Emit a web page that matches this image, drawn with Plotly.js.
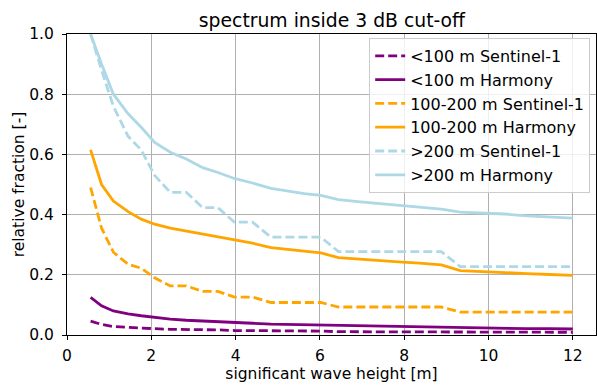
<!DOCTYPE html>
<html>
<head>
<meta charset="utf-8">
<script src="https://cdn.plot.ly/plotly-3.0.1.min.js"></script>
<style>html,body{margin:0;padding:0;background:#fff;}#chart{width:597px;height:387px;}</style>
</head>
<body>
<div id="chart"></div>
<script>
// significant wave height [m]
const hs = [0.56, 0.82, 1.1, 1.45, 1.76, 2.08, 2.45, 2.83, 3.22, 3.58, 3.97, 4.4, 4.84, 5.24, 5.63, 6.02, 6.44, 6.9, 7.38, 7.86, 8.36, 8.88, 9.33, 9.85, 10.38, 10.9, 11.45, 12.0];

const lt100S1 = [0.046, 0.035, 0.028, 0.025, 0.023, 0.021, 0.019, 0.019, 0.017, 0.017, 0.015, 0.015, 0.013, 0.013, 0.013, 0.013, 0.011, 0.011, 0.011, 0.011, 0.011, 0.011, 0.009, 0.009, 0.009, 0.009, 0.009, 0.009];
const lt100Harmony = [0.125, 0.097, 0.08, 0.07, 0.064, 0.058, 0.053, 0.049, 0.046, 0.043, 0.041, 0.039, 0.036, 0.035, 0.034, 0.032, 0.03, 0.029, 0.028, 0.027, 0.026, 0.025, 0.023, 0.022, 0.022, 0.021, 0.021, 0.02];
const mid100S1 = [0.49, 0.355, 0.275, 0.235, 0.222, 0.19, 0.163, 0.163, 0.145, 0.145, 0.126, 0.126, 0.108, 0.108, 0.108, 0.108, 0.093, 0.093, 0.093, 0.093, 0.093, 0.093, 0.076, 0.076, 0.076, 0.076, 0.076, 0.076];
const mid100Harmony = [0.615, 0.50, 0.445, 0.41, 0.385, 0.368, 0.355, 0.345, 0.335, 0.325, 0.314, 0.305, 0.29, 0.285, 0.28, 0.273, 0.257, 0.252, 0.248, 0.243, 0.239, 0.233, 0.214, 0.21, 0.207, 0.204, 0.201, 0.198];
const gt200S1 = [1.0, 0.88, 0.76, 0.66, 0.615, 0.53, 0.474, 0.474, 0.423, 0.423, 0.375, 0.375, 0.325, 0.325, 0.325, 0.325, 0.277, 0.277, 0.277, 0.277, 0.277, 0.277, 0.227, 0.227, 0.227, 0.227, 0.227, 0.227];
const gt200Harmony = [1.0, 0.90, 0.80, 0.735, 0.69, 0.64, 0.607, 0.585, 0.556, 0.54, 0.52, 0.505, 0.487, 0.478, 0.47, 0.464, 0.45, 0.443, 0.437, 0.43, 0.424, 0.418, 0.408, 0.405, 0.402, 0.396, 0.392, 0.388];

const names = ['<100 m Sentinel-1', '<100 m Harmony', '100-200 m Sentinel-1', '100-200 m Harmony', '>200 m Sentinel-1', '>200 m Harmony'];
const series = [lt100S1, lt100Harmony, mid100S1, mid100Harmony, gt200S1, gt200Harmony];
const colors = ['#800080', '#800080', '#FFA500', '#FFA500', '#ADD8E6', '#ADD8E6'];
const dashes = ['9px,4px', 'solid', '9px,4px', 'solid', '9px,4px', 'solid'];

const traces = series.map((ys, i) => ({
  x: hs, y: ys, name: names[i], type: 'scatter', mode: 'lines',
  line: {color: colors[i], width: 2.8, dash: dashes[i]}
}));

const font = {family: 'DejaVu Sans, sans-serif', size: 15.5, color: '#000'};
const layout = {
  width: 597, height: 387,
  margin: {l: 67, r: 1, t: 34, b: 52},
  paper_bgcolor: '#fff', plot_bgcolor: '#fff',
  font: font,
  title: {text: 'spectrum inside 3 dB cut-off', font: {family: 'DejaVu Sans, sans-serif', size: 18.8, color: '#000'}, x: 0.556, xanchor: 'center', y: 0.948, yanchor: 'middle'},
  xaxis: {
    range: [0, 12.55], tickvals: [0, 2, 4, 6, 8, 10, 12], ticktext: ['0', '2', '4', '6', '8', '10', '12'],
    ticks: 'outside', ticklen: 4, tickcolor: '#000', tickwidth: 1, ticklabelstandoff: 2,
    showgrid: true, gridcolor: '#b0b0b0', gridwidth: 1.1,
    showline: true, linecolor: '#000', linewidth: 1.1, mirror: true, zeroline: false,
    title: {text: 'significant wave height [m]', font: font, standoff: 0},
    tickfont: font
  },
  yaxis: {
    range: [0, 1.0], tickvals: [0, 0.2, 0.4, 0.6, 0.8, 1.0], ticktext: ['0.0', '0.2', '0.4', '0.6', '0.8', '1.0'],
    ticks: 'outside', ticklen: 4, tickcolor: '#000', tickwidth: 1, ticklabelstandoff: 5,
    showgrid: true, gridcolor: '#b0b0b0', gridwidth: 1.1,
    showline: true, linecolor: '#000', linewidth: 1.1, mirror: true, zeroline: false,
    title: {text: 'relative fraction [-]', font: font, standoff: 0},
    tickfont: font
  },
  legend: {
    x: 0.989, xanchor: 'right', y: 0.987, yanchor: 'top',
    bgcolor: 'rgba(255,255,255,0.8)', bordercolor: '#cccccc', borderwidth: 1,
    font: {family: 'DejaVu Sans, sans-serif', size: 16, color: '#000'},
    tracegroupgap: 0, itemwidth: 30
  },
  showlegend: true
};

Plotly.newPlot('chart', traces, layout, {displayModeBar: false, staticPlot: true});
</script>
</body>
</html>
